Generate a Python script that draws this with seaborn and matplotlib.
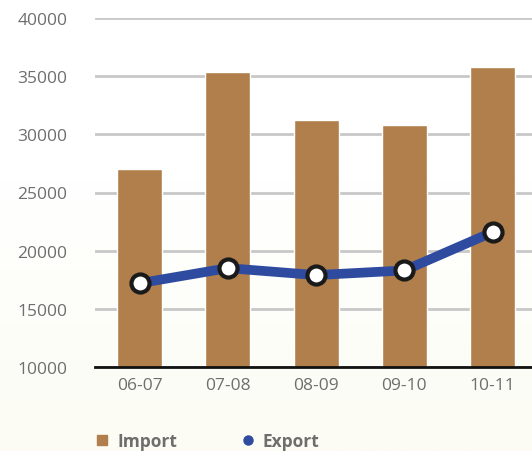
import matplotlib
matplotlib.use("Agg")
import matplotlib.pyplot as plt
from matplotlib.lines import Line2D
from matplotlib.colors import LinearSegmentedColormap
import numpy as np
import seaborn as sns
import pandas as pd

categories = ["06-07", "07-08", "08-09", "09-10", "10-11"]
import_values = [27000, 35400, 31200, 30800, 35800]
export_values = [17200, 18500, 17900, 18300, 21600]
y_ticks = [10000, 15000, 20000, 25000, 30000, 35000, 40000]

df = pd.DataFrame({"Year": categories, "Import": import_values, "Export": export_values})

sns.set_theme(style="white")
plt.rcParams["font.family"] = ["Open Sans", "DejaVu Sans"]

bar_color = "#B07F4B"
line_color = "#2F4B9F"
text_color = "#6E6E6E"
bg = "#FFFFFF"

fig = plt.figure(figsize=(5.32, 4.52), dpi=100, facecolor=bg)

# soft background gradient (white at top, cream towards the bottom)
bg_ax = fig.add_axes([0, 0, 1, 1], zorder=-10)
grad = np.linspace(0, 1, 256).reshape(-1, 1)
cmap = LinearSegmentedColormap.from_list("bg", [(0, "#FCFCF4"), (0.4, "#FEFEFB"), (0.6, "#FFFFFF"), (1, "#FFFFFF")])
bg_ax.imshow(grad, aspect="auto", cmap=cmap, origin="lower", extent=[0, 1, 0, 1])
bg_ax.set_axis_off()

ax = fig.add_axes([95 / 532, 84 / 452, 1 - 95 / 532, (368 - 19) / 452])
ax.set_facecolor("none")

sns.barplot(data=df, x="Year", y="Import", color=bar_color, width=0.51,
            saturation=1, ax=ax, zorder=2)
sns.pointplot(data=df, x="Year", y="Export", color=line_color, markers="o",
              linestyles="-", ax=ax, zorder=3)
for ln in ax.lines:
    ln.set_linewidth(7)
    ln.set_markersize(13)
    ln.set_markerfacecolor("white")
    ln.set_markeredgecolor("#1A1A1A")
    ln.set_markeredgewidth(3)
    ln.set_solid_capstyle("butt")

ax.set_ylim(10000, 40000)
ax.set_xlim(-0.504, 4.445)
ax.set_yticks(y_ticks)
ax.set_yticklabels([str(v) for v in y_ticks])
ax.grid(axis="y", color="#C8C8C8", linewidth=2, zorder=0)
ax.set_axisbelow(True)
for s in ["top", "right", "left"]:
    ax.spines[s].set_visible(False)
ax.spines["bottom"].set_color("#111111")
ax.spines["bottom"].set_linewidth(2)
ax.spines["bottom"].set_zorder(5)
ax.set_xlabel("")
ax.set_ylabel("")
ax.tick_params(axis="both", length=0, labelsize=12.5, labelcolor=text_color)
ax.tick_params(axis="y", pad=20)
ax.tick_params(axis="x", pad=7)

handles = [
    Line2D([], [], marker="s", linestyle="none", color=bar_color, markersize=7.5),
    Line2D([], [], marker="o", linestyle="none", color=line_color, markersize=6.5),
]
leg = fig.legend(handles, ["Import", "Export"], loc="center left",
                 bbox_to_anchor=(85 / 532, 10 / 452), ncol=2, frameon=False,
                 handlelength=1.0, handletextpad=0.35, columnspacing=3.6,
                 borderpad=0, prop={"weight": "bold", "size": 12.5})
for t in leg.get_texts():
    t.set_color(text_color)

fig.savefig("out.png", dpi=100, facecolor=bg)
